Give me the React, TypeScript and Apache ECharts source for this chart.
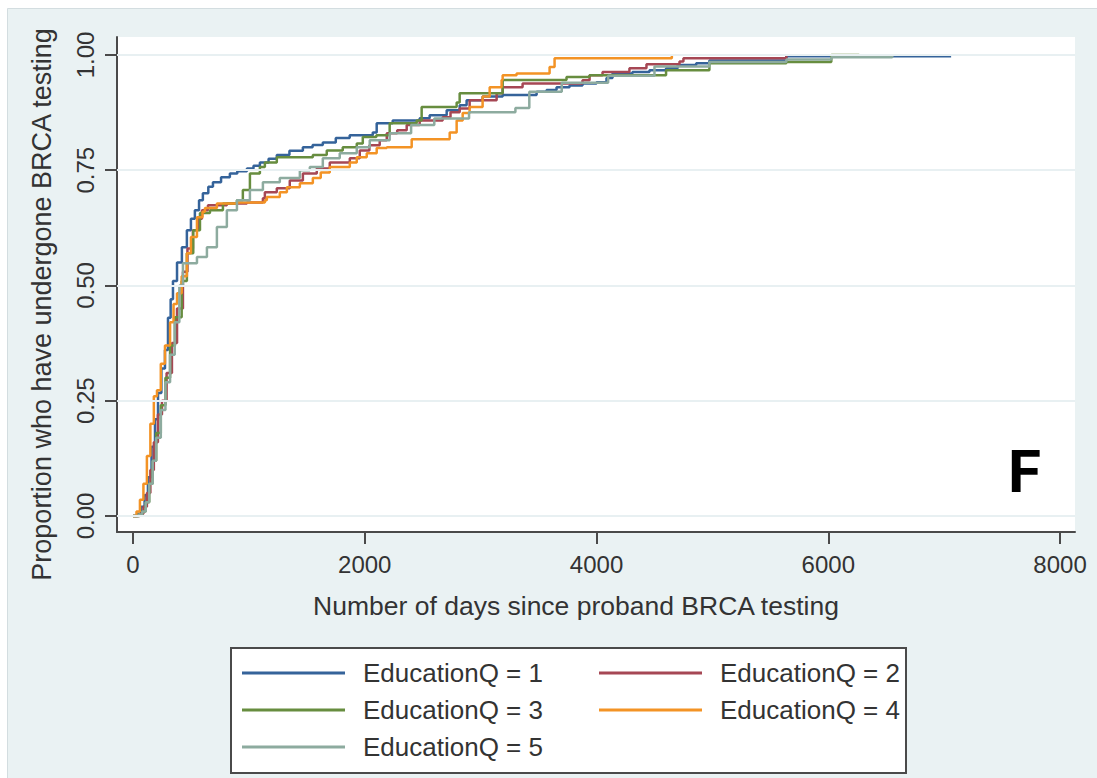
import React, { useEffect, useRef } from "react";
import * as echarts from "echarts";

const seriesNames = ["EducationQ = 1", "EducationQ = 2", "EducationQ = 3", "EducationQ = 4", "EducationQ = 5"];
const seriesColors = ["#35639a", "#a64754", "#678d3f", "#f39325", "#8dab9f"];

const xTicks = [0, 2000, 4000, 6000, 8000];
const yTicks = [0, 0.25, 0.5, 0.75, 1];

// [days, proportion]
const eduQ1 = [
  [0, 0], [40, 0.005], [70, 0.02], [100, 0.045], [129, 0.084], [160, 0.15], [190, 0.21], [216, 0.267], [245, 0.32],
  [276, 0.36], [302, 0.43], [325, 0.47], [345, 0.51], [380, 0.55], [422, 0.583], [465, 0.62], [500, 0.645], [534, 0.663],
  [570, 0.685], [603, 0.7], [650, 0.714], [690, 0.724], [760, 0.735], [836, 0.743], [900, 0.748], [983, 0.754],
  [1040, 0.76], [1095, 0.767], [1170, 0.775], [1241, 0.783], [1350, 0.792], [1466, 0.8], [1550, 0.805], [1638, 0.81],
  [1750, 0.82], [1870, 0.826], [2069, 0.832], [2103, 0.852], [2241, 0.858], [2474, 0.863], [2560, 0.869], [2707, 0.88],
  [2819, 0.891], [2879, 0.902], [3017, 0.91], [3190, 0.913], [3483, 0.92], [3569, 0.924], [3655, 0.93], [3767, 0.934],
  [3879, 0.938], [4000, 0.941], [4086, 0.95], [4138, 0.96], [4310, 0.963], [4457, 0.967], [4600, 0.971], [4700, 0.978],
  [4860, 0.982], [4974, 0.988], [5638, 0.997], [7060, 0.997],
];
const eduQ2 = [
  [0, 0], [60, 0.005], [90, 0.02], [120, 0.05], [150, 0.1], [180, 0.16], [215, 0.22], [250, 0.25], [290, 0.31],
  [336, 0.375], [380, 0.45], [431, 0.53], [470, 0.58], [517, 0.62], [560, 0.645], [595, 0.663], [647, 0.674],
  [810, 0.678], [983, 0.68], [1121, 0.689], [1138, 0.702], [1241, 0.711], [1353, 0.728], [1466, 0.743], [1586, 0.754],
  [1698, 0.767], [1871, 0.776], [1957, 0.793], [2040, 0.804], [2129, 0.815], [2190, 0.83], [2280, 0.837], [2362, 0.848],
  [2474, 0.858], [2672, 0.865], [2740, 0.876], [2819, 0.884], [2905, 0.902], [3138, 0.917], [3190, 0.93], [3362, 0.938],
  [3879, 0.945], [3940, 0.956], [4052, 0.963], [4284, 0.971], [4431, 0.98], [4716, 0.986], [4750, 0.993], [5638, 1.0],
];
const eduQ3 = [
  [0, 0], [50, 0.003], [80, 0.01], [110, 0.03], [140, 0.07], [170, 0.12], [200, 0.18], [240, 0.24], [280, 0.3],
  [320, 0.37], [362, 0.431], [420, 0.51], [465, 0.57], [520, 0.62], [578, 0.657], [664, 0.663], [776, 0.678],
  [897, 0.685], [948, 0.707], [1009, 0.743], [1095, 0.757], [1138, 0.767], [1241, 0.778], [1552, 0.783], [1672, 0.793],
  [1810, 0.8], [1931, 0.808], [1983, 0.822], [2100, 0.826], [2215, 0.852], [2448, 0.858], [2491, 0.887], [2793, 0.897],
  [2819, 0.917], [3190, 0.946], [3741, 0.952], [3940, 0.956], [4600, 0.967], [4974, 0.982], [5638, 0.985],
  [6026, 1.0], [6267, 1.0],
];
const eduQ4 = [
  [0, 0], [30, 0.01], [60, 0.035], [90, 0.07], [120, 0.13], [150, 0.2], [180, 0.26], [207, 0.273], [240, 0.33],
  [276, 0.37], [320, 0.42], [350, 0.46], [380, 0.483], [420, 0.52], [465, 0.57], [500, 0.605], [552, 0.648], [600, 0.66],
  [621, 0.668], [724, 0.678], [897, 0.68], [1138, 0.685], [1155, 0.692], [1267, 0.702], [1328, 0.713], [1440, 0.722],
  [1552, 0.733], [1620, 0.745], [1698, 0.757], [1871, 0.767], [1931, 0.778], [2017, 0.787], [2103, 0.798], [2190, 0.8],
  [2405, 0.817], [2733, 0.832], [2793, 0.858], [2845, 0.874], [2905, 0.887], [3017, 0.91], [3078, 0.93], [3181, 0.946],
  [3190, 0.956], [3310, 0.96], [3595, 0.974], [3638, 0.993], [4650, 1.0],
];
const eduQ5 = [
  [0, 0], [50, 0.003], [80, 0.01], [110, 0.03], [140, 0.07], [170, 0.12], [200, 0.17], [240, 0.23], [280, 0.29],
  [320, 0.35], [360, 0.42], [400, 0.5], [431, 0.548], [552, 0.562], [638, 0.583], [724, 0.627], [810, 0.663],
  [897, 0.685], [1009, 0.707], [1121, 0.724], [1267, 0.733], [1440, 0.75], [1526, 0.757], [1638, 0.776], [1784, 0.787],
  [1931, 0.8], [2043, 0.815], [2215, 0.83], [2400, 0.848], [2600, 0.862], [2900, 0.876], [3300, 0.885], [3420, 0.92],
  [3700, 0.94], [4100, 0.955], [4500, 0.975], [4974, 0.985], [5638, 0.99], [6026, 0.995], [6552, 1.0],
];
const allSeries = [eduQ1, eduQ2, eduQ3, eduQ4, eduQ5];

const FONT = "'Liberation Sans', Arial, sans-serif";
const TEXT_COLOR = "#333333";
const AXIS_COLOR = "#4a4a4a";

export default function App() {
  const ref = useRef<HTMLDivElement>(null);
  useEffect(() => {
    document.body.style.margin = "0";
    if (!ref.current) return;
    const chart = echarts.init(ref.current, null, { renderer: "svg" });
    const lineSeries = allSeries.map((d, i) => ({
      name: seriesNames[i],
      type: "line",
      step: "end",
      showSymbol: false,
      symbol: "none",
      z: 3,
      data: d,
      color: seriesColors[i],
      lineStyle: { color: seriesColors[i], width: 2.5 },
    }));
    chart.setOption({
      animation: false,
      backgroundColor: "#ffffff",
      graphic: [
        {
          type: "rect",
          z: -10,
          shape: { x: 7.5, y: 8.5, width: 1200, height: 900 },
          style: { fill: "#eaf2f3", stroke: "#d3dde0", lineWidth: 1 },
        },
        {
          type: "rect",
          z: 1,
          shape: { x: 231, y: 648, width: 675, height: 125 },
          style: { fill: "#ffffff", stroke: "#4a4a4a", lineWidth: 2 },
        },
        {
          type: "text",
          z: 5,
          x: 1008,
          y: 441,
          style: { text: "F", fontSize: 60, fontWeight: "bold", fontFamily: "Roboto, Arial, sans-serif", fill: "#000" },
        },
      ],
      grid: {
        left: 117,
        top: 37,
        width: 958,
        height: 495,
        show: true,
        backgroundColor: "#ffffff",
        borderWidth: 0,
      },
      legend: [
        {
          data: [seriesNames[0], seriesNames[2], seriesNames[4]],
          orient: "vertical",
          left: 242,
          top: 658,
          padding: 0,
          itemWidth: 103,
          itemHeight: 3,
          itemGap: 7,
          icon: "rect",
          textStyle: { fontSize: 26, lineHeight: 30, color: TEXT_COLOR, fontFamily: FONT, padding: [0, 0, 0, 13] },
        },
        {
          data: [seriesNames[1], seriesNames[3]],
          orient: "vertical",
          left: 599,
          top: 658,
          padding: 0,
          itemWidth: 103,
          itemHeight: 3,
          itemGap: 7,
          icon: "rect",
          textStyle: { fontSize: 26, lineHeight: 30, color: TEXT_COLOR, fontFamily: FONT, padding: [0, 0, 0, 13] },
        },
      ],
      xAxis: {
        type: "value",
        min: -138,
        max: 8129,
        name: "Number of days since proband BRCA testing",
        nameLocation: "middle",
        nameGap: 60,
        nameTextStyle: { fontSize: 26.5, color: TEXT_COLOR, fontFamily: FONT, padding: [0, 40, 0, 0] },
        axisLine: { show: true, onZero: false, lineStyle: { color: AXIS_COLOR, width: 2 } },
        axisTick: { show: true, length: 12, customValues: xTicks, lineStyle: { color: AXIS_COLOR, width: 2 } },
        axisLabel: {
          customValues: xTicks,
          fontSize: 24,
          color: TEXT_COLOR,
          fontFamily: FONT,
          margin: 20,
          formatter: (v: number) => String(v),
        },
        splitLine: { show: false },
      },
      yAxis: {
        type: "value",
        min: -0.0347,
        max: 1.039,
        name: "Proportion who have undergone BRCA testing",
        nameLocation: "middle",
        nameRotate: 90,
        nameGap: 62,
        nameTextStyle: { fontSize: 27, color: TEXT_COLOR, fontFamily: FONT, padding: [0, 40, 0, 0] },
        axisLine: { show: true, onZero: false, lineStyle: { color: AXIS_COLOR, width: 2 } },
        axisTick: { show: true, length: 12, customValues: yTicks, lineStyle: { color: AXIS_COLOR, width: 2 } },
        axisLabel: {
          customValues: yTicks,
          rotate: 90,
          fontSize: 24,
          color: TEXT_COLOR,
          fontFamily: FONT,
          margin: 20,
          formatter: (v: number) => v.toFixed(2),
        },
        splitLine: { show: false },
      },
      series: [
        {
          name: "grid",
          type: "line",
          data: [],
          z: 1,
          silent: true,
          markLine: {
            silent: true,
            symbol: "none",
            label: { show: false },
            lineStyle: { color: "#e8f0f2", width: 2, type: "solid" },
            data: yTicks.map((v) => ({ yAxis: v })),
          },
        },
        ...lineSeries,
      ],
    });
    return () => chart.dispose();
  }, []);
  return <div ref={ref} style={{ width: 1097, height: 778 }} />;
}
